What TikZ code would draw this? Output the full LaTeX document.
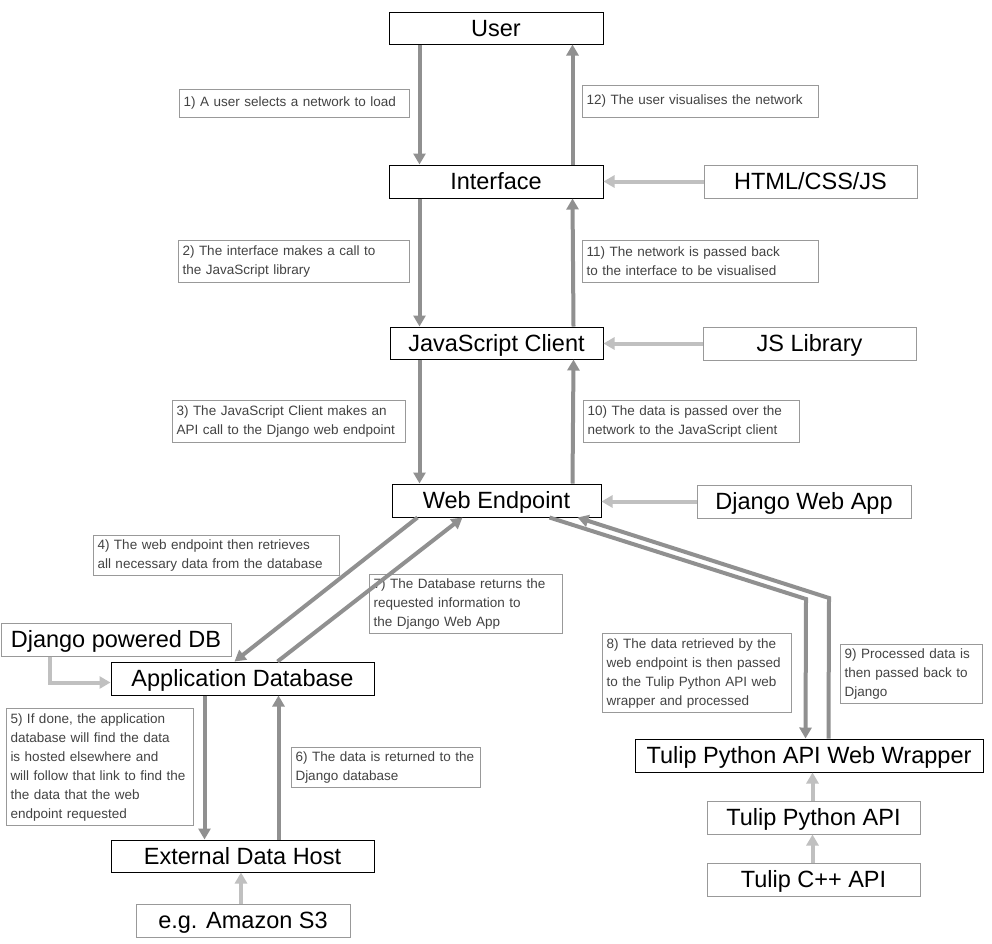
\documentclass[tikz,border=0pt]{standalone}
\usepackage{fontspec}
\setmainfont{Liberation Sans}
\usetikzlibrary{arrows.meta}
\definecolor{flowgray}{RGB}{144,144,144}
\definecolor{feedgray}{RGB}{192,192,192}
\definecolor{boxgray}{RGB}{153,153,153}
\definecolor{notetext}{RGB}{67,67,67}
\tikzset{
  block/.style={draw=black, line width=1pt, inner sep=0pt, minimum height=33pt,
    text height=16.8pt, text depth=0pt, font=\fontsize{23.5}{26}\selectfont},
  side/.style={block, draw=boxgray},
  note/.style={draw=boxgray, line width=1pt, anchor=north west, align=left,
    inner sep=4pt, text=notetext, font=\fontsize{13.5}{19}\selectfont},
  flow/.style={draw=flowgray, line width=4pt, -{Triangle[length=11pt,width=12pt]}},
  feed/.style={draw=feedgray, line width=4pt, -{Triangle[length=11pt,width=12pt]}}
}
\begin{document}
\begin{tikzpicture}[x=1pt,y=-1pt]
\useasboundingbox[fill=white] (0,0) rectangle (992,943);
\node[block, minimum width=214pt, minimum height=32pt] (user) at (496,28) {User};
\node[block, minimum width=214pt] (interface) at (496,181.5) {Interface};
\node[block, minimum width=213pt, minimum height=32pt] (jsclient) at (496.5,343) {JavaScript Client};
\node[block, minimum width=209pt] (web) at (496.5,500.5) {Web Endpoint};
\node[block, minimum width=263pt] (appdb) at (242.5,678.5) {Application Database};
\node[block, minimum width=263pt, minimum height=32pt] (exthost) at (242.5,856) {External Data Host};
\node[block, minimum width=348pt] (wrapper) at (809,755.5) {Tulip Python API Web Wrapper}; % main boxes
\node[side, minimum width=213pt] (html) at (810.5,181.5) {HTML/CSS/JS};
\node[side, minimum width=213pt] (jslib) at (809.5,343.5) {JS Library};
\node[side, minimum width=214pt] (djapp) at (804,501.5) {Django Web App};
\node[side, minimum width=230pt] (djdb) at (116,639.5) {Django powered DB};
\node[side, minimum width=214pt] (amazon) at (243,920.5) {e.g. Amazon S3};
\node[side, minimum width=213pt] (tpa) at (813.5,817.5) {Tulip Python API};
\node[side, minimum width=213pt] (tcpp) at (813.5,879.5) {Tulip C++ API}; % side boxes
\node[note, text width=222pt, minimum height=28pt] (n1) at (179,89) {1) A user selects a network to load};
\node[note, text width=228pt, minimum height=32pt] (n12) at (582,85) {12) The user visualises the network};
\node[note, text width=223pt, minimum height=42pt] (n2) at (178,240) {2) The interface makes a call to\\the JavaScript library};
\node[note, text width=228pt, minimum height=42pt] (n11) at (582,240) {11) The network is passed back\\to the interface to be visualised};
\node[note, text width=225pt, minimum height=42pt] (n3) at (172,400) {3) The JavaScript Client makes an\\API call to the Django web endpoint};
\node[note, text width=208pt, minimum height=42pt] (n10) at (583,400) {10) The data is passed over the\\network to the JavaScript client};
\node[note, text width=238pt, minimum height=38pt] (n4) at (93,535) {4) The web endpoint then retrieves\\all necessary data from the database};
\node[note, text width=185pt, minimum height=59pt] (n7) at (369,574) {7) The Database returns the\\requested information to\\the Django Web App};
\node[note, text width=179pt, minimum height=117pt] (n5) at (6,708) {5) If done, the application\\database will find the data\\is hosted elsewhere and\\will follow that link to find the\\the data that the web\\endpoint requested};
\node[note, text width=181pt, minimum height=39pt] (n6) at (291,747) {6) The data is returned to the\\Django database};
\node[note, text width=181pt, minimum height=79pt] (n8) at (602,633) {8) The data retrieved by the\\web endpoint is then passed\\to the Tulip Python API web\\wrapper and processed};
\node[note, text width=134pt, minimum height=58pt] (n9) at (840,644) {9) Processed data is\\then passed back to\\Django}; % step notes
\coordinate (bendin) at (806,599);
\coordinate (bendout) at (829,598);
\draw[flow] ([xshift=31pt]user.south west) -- ([xshift=31pt]interface.north west);
\draw[flow] ([xshift=-31pt]interface.north east) -- ([xshift=-31pt]user.south east);
\draw[flow] ([xshift=31pt]interface.south west) -- ([xshift=30pt]jsclient.north west);
\draw[flow] ([xshift=-30pt]jsclient.north east) -- ([xshift=-31pt]interface.south east);
\draw[flow] ([xshift=30pt]jsclient.south west) -- ([xshift=28pt]web.north west);
\draw[flow] ([xshift=-29pt]web.north east) -- ([xshift=-30pt]jsclient.south east);
\draw[flow] ([xshift=26pt]web.south west) -- ([xshift=124pt]appdb.north west);
\draw[flow] ([xshift=167pt]appdb.north west) -- ([xshift=71pt]web.south west);
\draw[flow] ([xshift=94pt]appdb.south west) -- ([xshift=94pt]exthost.north west);
\draw[flow] ([xshift=168pt]exthost.north west) -- ([xshift=168pt]appdb.south west);
\draw[flow] ([xshift=158pt]web.south west) -- (bendin) -- ([xshift=171pt]wrapper.north west);
\draw[flow] ([xshift=194pt]wrapper.north west) -- (bendout) -- ([xshift=186pt]web.south west); % main flow
\draw[feed] (html.west) -- (interface.east);
\draw[feed] (jslib.west) -- (jslib.west -| jsclient.east);
\draw[feed] (djapp.west) -- (djapp.west -| web.east);
\draw[feed] ([xshift=49pt]djdb.south west) |- ([yshift=-4pt]appdb.west);
\draw[feed] ([xshift=-2pt]amazon.north) -- ([xshift=-2pt]amazon.north |- exthost.south);
\draw[feed] ([xshift=-1pt]tpa.north) -- ([xshift=-1pt]tpa.north |- wrapper.south);
\draw[feed] ([xshift=-1pt]tcpp.north) -- ([xshift=-1pt]tpa.south); % inputs
\end{tikzpicture}
\end{document}
